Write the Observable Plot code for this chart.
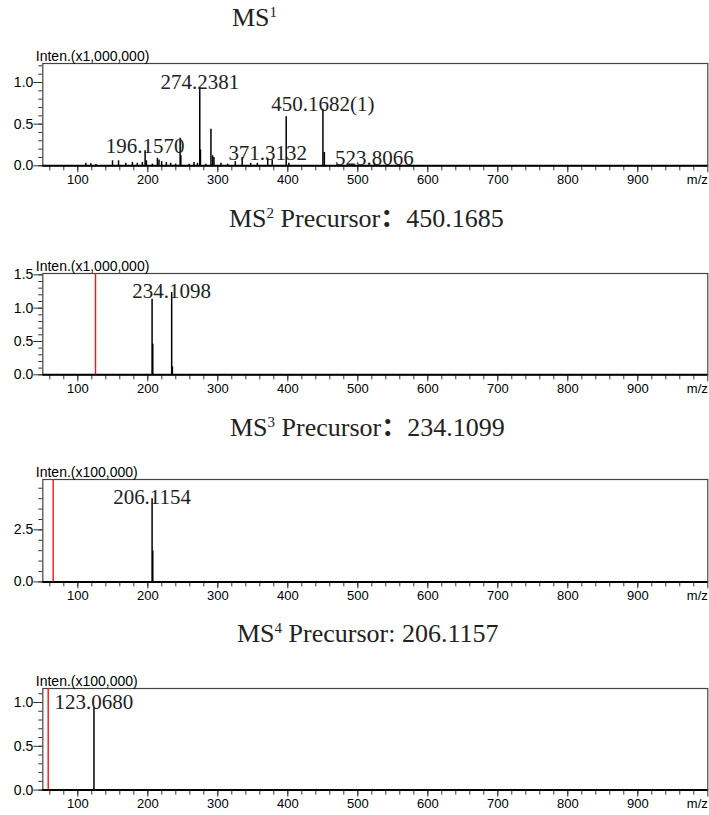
<!DOCTYPE html>
<html>
<head>
<meta charset="utf-8">
<script src="https://cdn.jsdelivr.net/npm/d3@7"></script>
<script src="https://cdn.jsdelivr.net/npm/@observablehq/plot@0.6"></script>
<style>
  html, body { margin: 0; padding: 0; background: #fff; overflow: hidden; }
  #wrap { position: relative; width: 709px; height: 815px; }
  .panel { position: absolute; left: 0; }
  .title { position: absolute; font-family: "Liberation Serif", "Times New Roman", serif; font-size: 26px; line-height: 26px; color: #222; white-space: nowrap; }
  .title sup { font-size: 15px; line-height: 0; position: relative; top: -0.62em; vertical-align: baseline; }
  .cjk { font-family: "Noto Sans CJK SC", sans-serif; font-weight: bold; }
</style>
</head>
<body>
<div id="wrap"></div>
<script>
// ---------------- DATA ----------------
// MS1 spectrum (intensity in x1,000,000)
const ms1Mz  = [111.5, 118.6, 126, 149.6, 158.2, 168.6, 178, 185, 192.2, 196.16, 198, 206.6, 213.7, 216, 219.8, 226.5, 232.7, 239.8, 246.2, 247.2, 259, 266, 271, 274.24, 275.2, 283, 290.2, 292.6, 294.5, 304.5, 314, 325, 334.8, 347, 356.5, 371.31, 377.7, 397.7, 401.5, 450.17, 452.2, 470.5, 523.81];
const ms1Int = [0.03, 0.025, 0.015, 0.06, 0.06, 0.03, 0.04, 0.03, 0.04, 0.18, 0.06, 0.02, 0.09, 0.07, 0.05, 0.04, 0.03, 0.02, 0.33, 0.12, 0.02, 0.04, 0.03, 0.94, 0.19, 0.02, 0.44, 0.12, 0.10, 0.03, 0.02, 0.05, 0.10, 0.03, 0.03, 0.09, 0.07, 0.59, 0.03, 0.68, 0.16, 0.02, 0.03];
const ms1LabelMz   = [196.16, 274.24, 371.31, 450.17, 523.81];
const ms1LabelText = ["196.1570", "274.2381", "371.3132", "450.1682(1)", "523.8066"];

// MS2 (precursor 450.1685), intensity x1,000,000
const ms2Mz  = [206.12, 207.12, 234.11, 235.11];
const ms2Int = [1.135, 0.46, 1.234, 0.12];
const ms2Red = [125.3];
const ms2LabelMz = [234.11];
const ms2LabelText = ["234.1098"];

// MS3 (precursor 234.1099), intensity x100,000
const ms3Mz  = [206.12, 207.12];
const ms3Int = [4.0, 1.49];
const ms3Red = [64.8];
const ms3LabelMz = [206.12];
const ms3LabelText = ["206.1154"];

// MS4 (precursor 206.1157), intensity x100,000
const ms4Mz  = [123.07];
const ms4Int = [0.936];
const ms4Red = [57.7];
const ms4LabelMz = [123.07];
const ms4LabelText = ["123.0680"];

// axis ticks
const xMajor = [100, 200, 300, 400, 500, 600, 700, 800, 900, 1000];
const xMinor = d3.range(60, 1000, 20);
const xUnit = "m/z";

// ---------------- DRAW ----------------
const wrap = document.getElementById("wrap");

function panel({mz, inten, labelMz, labelText, red, yMax, yMajor, yMinor, unitText, top, plotH, dy}) {
  const peaks = mz.map((m, i) => ({mz: m, int: inten[i]}));
  const labels = labelMz.map((m, i) => ({mz: m, int: inten[mz.indexOf(m)], text: labelText[i]}));
  const mt = 25, mb = 24;
  const svg = Plot.plot({
    width: 709,
    height: mt + plotH + mb,
    marginLeft: 42.3, marginRight: 1.7, marginTop: mt, marginBottom: mb,
    x: {domain: [50, 1000], label: null},
    y: {domain: [0, yMax], label: null},
    style: {fontFamily: "'Liberation Sans', Arial, sans-serif", fontSize: "13px", color: "#000", background: "transparent", overflow: "visible"},
    marks: [
      Plot.frame({stroke: "#444", strokeWidth: 1.2}),
      Plot.axisY(yMinor, {tickSize: 4, text: null, label: null, stroke: "#333"}),
      Plot.axisY(yMajor, {tickSize: 9, tickPadding: 0.5, tickFormat: ".1f", label: null, fontSize: 14, stroke: "#333"}),
      Plot.axisX(xMinor, {tickSize: 5, text: null, label: null, stroke: "#333"}),
      Plot.axisX(xMajor, {tickSize: 7, tickPadding: 2, fontSize: 13, label: null, stroke: "#333", tickFormat: d => d === 1000 ? "" : d}),
      Plot.text([xUnit], {x: () => 1000, frameAnchor: "bottom", textAnchor: "end", lineAnchor: "top", dy: 9, fontSize: 13}),
      Plot.ruleY([0], {stroke: "#000", strokeWidth: 2}),
      Plot.ruleX(red || [], {stroke: "#ff1010", strokeWidth: 1.4}),
      Plot.ruleX(peaks, {x: "mz", y1: 0, y2: "int", stroke: "#000", strokeWidth: 1.5}),
      Plot.text(labels, {x: "mz", y: "int", text: "text", fontFamily: "'Liberation Serif', 'Times New Roman', serif", fontSize: 21, fill: "#222", lineAnchor: "bottom", textAnchor: "middle", dy}),
      Plot.text([unitText], {frameAnchor: "top-left", textAnchor: "start", lineAnchor: "bottom", dx: -7, dy: -2, fontSize: 14})
    ]
  });
  svg.classList.add("panel");
  svg.style.top = (top - mt) + "px";
  wrap.appendChild(svg);
}

panel({mz: ms1Mz, inten: ms1Int, labelMz: ms1LabelMz, labelText: ms1LabelText, red: [],
  yMax: 1.228, yMajor: [0, 0.5, 1.0], yMinor: d3.range(0, 1.21, 0.1), unitText: "Inten.(x1,000,000)",
  top: 62.7, plotH: 102.3, dy: 2});
panel({mz: ms2Mz, inten: ms2Int, labelMz: ms2LabelMz, labelText: ms2LabelText, red: ms2Red,
  yMax: 1.52, yMajor: [0, 0.5, 1.0, 1.5], yMinor: d3.range(0, 1.51, 0.1), unitText: "Inten.(x1,000,000)",
  top: 272.7, plotH: 101.3, dy: 5.5});
panel({mz: ms3Mz, inten: ms3Int, labelMz: ms3LabelMz, labelText: ms3LabelText, red: ms3Red,
  yMax: 4.92, yMajor: [0, 2.5], yMinor: d3.range(0, 4.6, 0.5), unitText: "Inten.(x100,000)",
  top: 479.3, plotH: 102.4, dy: 5});
panel({mz: ms4Mz, inten: ms4Int, labelMz: ms4LabelMz, labelText: ms4LabelText, red: ms4Red,
  yMax: 1.16, yMajor: [0, 0.5, 1.0], yMinor: d3.range(0, 1.11, 0.1), unitText: "Inten.(x100,000)",
  top: 687.7, plotH: 101.6, dy: 0.5});

// titles (baseline ≈ top + 21.8px)
const titles = [
  {html: 'MS<sup>1</sup>', left: 232, baseline: 27},
  {html: 'MS<sup>2</sup> Precursor<span class="cjk">：</span>450.1685', left: 229, baseline: 225},
  {html: 'MS<sup>3</sup> Precursor<span class="cjk">：</span>234.1099', left: 230, baseline: 434},
  {html: 'MS<sup>4</sup> Precursor: 206.1157', left: 237, baseline: 643}
];
for (const t of titles) {
  const d = document.createElement("div");
  d.className = "title";
  d.innerHTML = t.html;
  d.style.left = t.left + "px";
  d.style.top = (t.baseline - 21.8) + "px";
  wrap.appendChild(d);
}
</script>
</body>
</html>
